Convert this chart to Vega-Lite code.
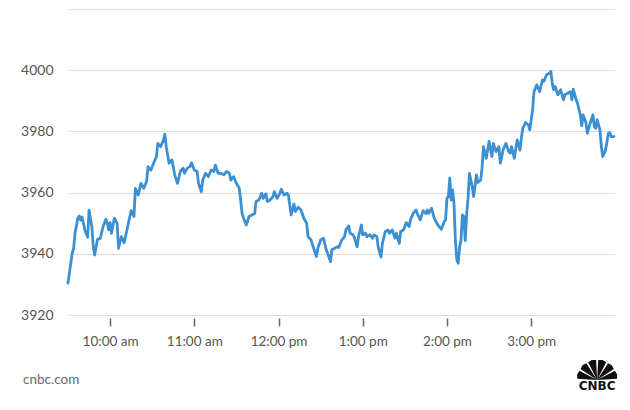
{
  "$schema": "https://vega.github.io/schema/vega-lite/v6.json",
  "width": 546,
  "height": 306,
  "autosize": {"type": "none"},
  "padding": {"left": 68, "top": 9, "right": 16, "bottom": 95},
  "background": "#ffffff",
  "config": {"view": {"stroke": null}},
  "layer": [
    {
      "data": {
        "values": [
          {"t":"2023-03-06T09:30","v":3930.4},{"t":"2023-03-06T09:33","v":3940.2},{"t":"2023-03-06T09:34","v":3941.8},{"t":"2023-03-06T09:35","v":3946.7},{"t":"2023-03-06T09:37","v":3951.6},{"t":"2023-03-06T09:38","v":3952.4},{"t":"2023-03-06T09:39","v":3951.0},{"t":"2023-03-06T09:40","v":3952.0},{"t":"2023-03-06T09:41","v":3950.0},{"t":"2023-03-06T09:42","v":3947.8},{"t":"2023-03-06T09:44","v":3945.4},{"t":"2023-03-06T09:45","v":3954.3},{"t":"2023-03-06T09:47","v":3948.9},{"t":"2023-03-06T09:48","v":3942.3},{"t":"2023-03-06T09:49","v":3939.6},{"t":"2023-03-06T09:51","v":3944.7},{"t":"2023-03-06T09:53","v":3945.0},{"t":"2023-03-06T09:55","v":3948.9},{"t":"2023-03-06T09:57","v":3951.3},{"t":"2023-03-06T09:58","v":3950.0},{"t":"2023-03-06T09:59","v":3947.8},
          {"t":"2023-03-06T10:00","v":3950.2},{"t":"2023-03-06T10:01","v":3946.7},{"t":"2023-03-06T10:03","v":3951.6},{"t":"2023-03-06T10:05","v":3950.0},{"t":"2023-03-06T10:06","v":3941.8},{"t":"2023-03-06T10:08","v":3945.6},{"t":"2023-03-06T10:10","v":3943.6},{"t":"2023-03-06T10:12","v":3947.8},{"t":"2023-03-06T10:13","v":3950.0},{"t":"2023-03-06T10:15","v":3954.1},{"t":"2023-03-06T10:17","v":3952.2},{"t":"2023-03-06T10:18","v":3961.4},{"t":"2023-03-06T10:20","v":3959.2},{"t":"2023-03-06T10:22","v":3963.0},{"t":"2023-03-06T10:24","v":3961.4},{"t":"2023-03-06T10:26","v":3963.6},{"t":"2023-03-06T10:27","v":3968.5},{"t":"2023-03-06T10:29","v":3967.3},{"t":"2023-03-06T10:31","v":3969.6},{"t":"2023-03-06T10:33","v":3971.8},{"t":"2023-03-06T10:34","v":3976.1},{"t":"2023-03-06T10:36","v":3975.0},{"t":"2023-03-06T10:38","v":3977.2},{"t":"2023-03-06T10:39","v":3979.1},{"t":"2023-03-06T10:40","v":3975.0},{"t":"2023-03-06T10:42","v":3969.6},{"t":"2023-03-06T10:44","v":3970.7},{"t":"2023-03-06T10:45","v":3968.5},{"t":"2023-03-06T10:46","v":3965.8},{"t":"2023-03-06T10:48","v":3963.0},{"t":"2023-03-06T10:50","v":3966.9},{"t":"2023-03-06T10:52","v":3968.0},{"t":"2023-03-06T10:53","v":3966.3},{"t":"2023-03-06T10:55","v":3968.0},{"t":"2023-03-06T10:57","v":3968.5},{"t":"2023-03-06T10:58","v":3969.8},
          {"t":"2023-03-06T11:00","v":3967.4},{"t":"2023-03-06T11:02","v":3966.9},{"t":"2023-03-06T11:03","v":3963.0},{"t":"2023-03-06T11:05","v":3960.3},{"t":"2023-03-06T11:06","v":3964.1},{"t":"2023-03-06T11:08","v":3966.3},{"t":"2023-03-06T11:10","v":3965.2},{"t":"2023-03-06T11:12","v":3967.4},{"t":"2023-03-06T11:14","v":3966.9},{"t":"2023-03-06T11:15","v":3969.0},{"t":"2023-03-06T11:17","v":3966.3},{"t":"2023-03-06T11:19","v":3966.3},{"t":"2023-03-06T11:21","v":3965.8},{"t":"2023-03-06T11:23","v":3966.9},{"t":"2023-03-06T11:25","v":3966.3},{"t":"2023-03-06T11:26","v":3964.1},{"t":"2023-03-06T11:28","v":3965.2},{"t":"2023-03-06T11:30","v":3963.0},{"t":"2023-03-06T11:32","v":3961.4},{"t":"2023-03-06T11:33","v":3957.6},{"t":"2023-03-06T11:34","v":3953.2},{"t":"2023-03-06T11:36","v":3950.5},{"t":"2023-03-06T11:37","v":3949.4},{"t":"2023-03-06T11:39","v":3952.2},{"t":"2023-03-06T11:41","v":3952.7},{"t":"2023-03-06T11:43","v":3953.2},{"t":"2023-03-06T11:44","v":3957.1},{"t":"2023-03-06T11:46","v":3957.6},{"t":"2023-03-06T11:48","v":3959.8},{"t":"2023-03-06T11:49","v":3958.1},{"t":"2023-03-06T11:51","v":3959.6},{"t":"2023-03-06T11:52","v":3957.1},{"t":"2023-03-06T11:54","v":3957.6},{"t":"2023-03-06T11:56","v":3958.7},{"t":"2023-03-06T11:57","v":3960.3},{"t":"2023-03-06T11:59","v":3958.1},
          {"t":"2023-03-06T12:01","v":3959.8},{"t":"2023-03-06T12:02","v":3961.1},{"t":"2023-03-06T12:04","v":3959.2},{"t":"2023-03-06T12:06","v":3959.8},{"t":"2023-03-06T12:07","v":3959.2},{"t":"2023-03-06T12:09","v":3952.7},{"t":"2023-03-06T12:11","v":3956.3},{"t":"2023-03-06T12:12","v":3953.8},{"t":"2023-03-06T12:14","v":3955.2},{"t":"2023-03-06T12:16","v":3954.3},{"t":"2023-03-06T12:18","v":3951.6},{"t":"2023-03-06T12:20","v":3950.0},{"t":"2023-03-06T12:21","v":3945.6},{"t":"2023-03-06T12:23","v":3944.7},{"t":"2023-03-06T12:25","v":3941.8},{"t":"2023-03-06T12:27","v":3939.1},{"t":"2023-03-06T12:28","v":3941.8},{"t":"2023-03-06T12:30","v":3944.5},{"t":"2023-03-06T12:32","v":3945.1},{"t":"2023-03-06T12:34","v":3941.3},{"t":"2023-03-06T12:35","v":3940.2},{"t":"2023-03-06T12:37","v":3937.4},{"t":"2023-03-06T12:38","v":3941.3},{"t":"2023-03-06T12:40","v":3941.8},{"t":"2023-03-06T12:42","v":3942.3},{"t":"2023-03-06T12:43","v":3942.1},{"t":"2023-03-06T12:45","v":3944.5},{"t":"2023-03-06T12:47","v":3945.6},{"t":"2023-03-06T12:48","v":3947.8},{"t":"2023-03-06T12:50","v":3949.1},{"t":"2023-03-06T12:51","v":3946.7},{"t":"2023-03-06T12:53","v":3946.2},{"t":"2023-03-06T12:54","v":3945.4},{"t":"2023-03-06T12:56","v":3942.3},{"t":"2023-03-06T12:57","v":3945.6},{"t":"2023-03-06T12:59","v":3949.4},
          {"t":"2023-03-06T13:00","v":3946.2},{"t":"2023-03-06T13:02","v":3946.7},{"t":"2023-03-06T13:03","v":3945.6},{"t":"2023-03-06T13:05","v":3946.2},{"t":"2023-03-06T13:07","v":3945.1},{"t":"2023-03-06T13:08","v":3946.2},{"t":"2023-03-06T13:10","v":3945.6},{"t":"2023-03-06T13:11","v":3942.3},{"t":"2023-03-06T13:13","v":3938.9},{"t":"2023-03-06T13:14","v":3943.4},{"t":"2023-03-06T13:16","v":3947.2},{"t":"2023-03-06T13:18","v":3947.8},{"t":"2023-03-06T13:19","v":3946.7},{"t":"2023-03-06T13:21","v":3947.8},{"t":"2023-03-06T13:23","v":3945.1},{"t":"2023-03-06T13:24","v":3946.7},{"t":"2023-03-06T13:26","v":3943.4},{"t":"2023-03-06T13:27","v":3947.2},{"t":"2023-03-06T13:29","v":3947.8},{"t":"2023-03-06T13:31","v":3950.2},{"t":"2023-03-06T13:33","v":3948.9},{"t":"2023-03-06T13:34","v":3951.1},{"t":"2023-03-06T13:36","v":3953.3},{"t":"2023-03-06T13:38","v":3954.3},{"t":"2023-03-06T13:39","v":3953.0},{"t":"2023-03-06T13:41","v":3951.1},{"t":"2023-03-06T13:43","v":3954.1},{"t":"2023-03-06T13:45","v":3953.2},{"t":"2023-03-06T13:46","v":3954.3},{"t":"2023-03-06T13:47","v":3953.2},{"t":"2023-03-06T13:49","v":3954.9},{"t":"2023-03-06T13:51","v":3951.6},{"t":"2023-03-06T13:53","v":3949.8},{"t":"2023-03-06T13:54","v":3949.1},{"t":"2023-03-06T13:56","v":3948.0},{"t":"2023-03-06T13:58","v":3950.5},{"t":"2023-03-06T13:59","v":3951.1},
          {"t":"2023-03-06T14:00","v":3958.1},{"t":"2023-03-06T14:01","v":3958.7},{"t":"2023-03-06T14:02","v":3964.7},{"t":"2023-03-06T14:03","v":3957.6},{"t":"2023-03-06T14:04","v":3960.9},{"t":"2023-03-06T14:05","v":3956.5},{"t":"2023-03-06T14:06","v":3944.5},{"t":"2023-03-06T14:07","v":3938.0},{"t":"2023-03-06T14:08","v":3936.9},{"t":"2023-03-06T14:09","v":3942.3},{"t":"2023-03-06T14:10","v":3944.5},{"t":"2023-03-06T14:11","v":3952.7},{"t":"2023-03-06T14:12","v":3952.2},{"t":"2023-03-06T14:13","v":3944.3},{"t":"2023-03-06T14:14","v":3952.7},{"t":"2023-03-06T14:15","v":3958.1},{"t":"2023-03-06T14:16","v":3966.3},{"t":"2023-03-06T14:17","v":3964.1},{"t":"2023-03-06T14:18","v":3961.9},{"t":"2023-03-06T14:19","v":3958.7},{"t":"2023-03-06T14:21","v":3965.8},{"t":"2023-03-06T14:22","v":3963.3},{"t":"2023-03-06T14:24","v":3964.1},{"t":"2023-03-06T14:25","v":3968.0},{"t":"2023-03-06T14:26","v":3975.0},{"t":"2023-03-06T14:28","v":3971.2},{"t":"2023-03-06T14:29","v":3973.9},{"t":"2023-03-06T14:30","v":3976.7},{"t":"2023-03-06T14:32","v":3971.8},{"t":"2023-03-06T14:33","v":3976.1},{"t":"2023-03-06T14:35","v":3973.4},{"t":"2023-03-06T14:37","v":3975.0},{"t":"2023-03-06T14:38","v":3969.6},{"t":"2023-03-06T14:40","v":3973.9},{"t":"2023-03-06T14:42","v":3976.1},{"t":"2023-03-06T14:44","v":3973.4},{"t":"2023-03-06T14:45","v":3972.9},{"t":"2023-03-06T14:46","v":3975.0},{"t":"2023-03-06T14:48","v":3971.2},{"t":"2023-03-06T14:50","v":3977.2},{"t":"2023-03-06T14:52","v":3973.9},{"t":"2023-03-06T14:53","v":3977.8},{"t":"2023-03-06T14:54","v":3981.0},{"t":"2023-03-06T14:56","v":3982.9},{"t":"2023-03-06T14:58","v":3982.1},{"t":"2023-03-06T14:59","v":3980.5},
          {"t":"2023-03-06T15:01","v":3987.0},{"t":"2023-03-06T15:02","v":3993.0},{"t":"2023-03-06T15:04","v":3995.2},{"t":"2023-03-06T15:05","v":3994.1},{"t":"2023-03-06T15:06","v":3993.0},{"t":"2023-03-06T15:08","v":3996.8},{"t":"2023-03-06T15:09","v":3996.3},{"t":"2023-03-06T15:11","v":3998.5},{"t":"2023-03-06T15:13","v":3999.0},{"t":"2023-03-06T15:14","v":3999.6},{"t":"2023-03-06T15:15","v":3995.7},{"t":"2023-03-06T15:16","v":3993.6},{"t":"2023-03-06T15:17","v":3994.7},{"t":"2023-03-06T15:19","v":3992.0},{"t":"2023-03-06T15:21","v":3993.6},{"t":"2023-03-06T15:23","v":3990.3},{"t":"2023-03-06T15:24","v":3992.0},{"t":"2023-03-06T15:26","v":3992.5},{"t":"2023-03-06T15:28","v":3993.0},{"t":"2023-03-06T15:29","v":3990.3},{"t":"2023-03-06T15:30","v":3993.8},{"t":"2023-03-06T15:32","v":3990.3},{"t":"2023-03-06T15:33","v":3989.2},{"t":"2023-03-06T15:35","v":3985.4},{"t":"2023-03-06T15:36","v":3981.8},{"t":"2023-03-06T15:37","v":3985.4},{"t":"2023-03-06T15:39","v":3982.9},{"t":"2023-03-06T15:40","v":3979.4},{"t":"2023-03-06T15:42","v":3982.6},{"t":"2023-03-06T15:44","v":3985.4},{"t":"2023-03-06T15:45","v":3981.6},{"t":"2023-03-06T15:46","v":3981.0},{"t":"2023-03-06T15:47","v":3983.8},{"t":"2023-03-06T15:49","v":3980.5},{"t":"2023-03-06T15:50","v":3975.0},{"t":"2023-03-06T15:51","v":3971.8},{"t":"2023-03-06T15:53","v":3973.9},{"t":"2023-03-06T15:55","v":3979.4},{"t":"2023-03-06T15:56","v":3979.6},{"t":"2023-03-06T15:57","v":3978.3},{"t":"2023-03-06T15:59","v":3978.3}
        ]
      },
      "mark": {"type": "line", "color": "#3b8fd2", "strokeWidth": 2.8, "strokeJoin": "round", "strokeCap": "round"},
      "encoding": {
        "x": {
          "field": "t", "type": "temporal",
          "scale": {"nice": false, "domain": [{"year": 2023, "month": 3, "date": 6, "hours": 9, "minutes": 30}, {"year": 2023, "month": 3, "date": 6, "hours": 15, "minutes": 59}]},
          "axis": {
            "title": null, "grid": false, "domain": false,
            "values": [
              {"year": 2023, "month": 3, "date": 6, "hours": 10},
              {"year": 2023, "month": 3, "date": 6, "hours": 11},
              {"year": 2023, "month": 3, "date": 6, "hours": 12},
              {"year": 2023, "month": 3, "date": 6, "hours": 13},
              {"year": 2023, "month": 3, "date": 6, "hours": 14},
              {"year": 2023, "month": 3, "date": 6, "hours": 15}
            ],
            "format": "%-I:%M %p",
            "labelExpr": "replace(replace(datum.label, 'AM', 'am'), 'PM', 'pm')",
            "ticks": true, "tickSize": 8, "tickColor": "#666666", "tickWidth": 1.5, "offset": 3,
            "labelPadding": 8, "labelFont": "Lato", "labelFontSize": 13.5, "labelColor": "#555555", "labelFlush": false
          }
        },
        "y": {
          "field": "v", "type": "quantitative",
          "scale": {"domain": [3920, 4020], "nice": false, "zero": false},
          "axis": {
            "title": null, "domain": false, "ticks": false, "format": "d",
            "values": [3920, 3940, 3960, 3980, 4000, 4020],
            "labelExpr": "datum.value == 4020 ? '' : datum.label",
            "grid": true, "gridColor": "#dddddd", "gridWidth": 1,
            "labelPadding": 15, "labelFont": "Lato", "labelFontSize": 14, "labelColor": "#555555"
          }
        }
      }
    },
    {
      "data": {"values": [{"label": "CNBC"}]},
      "mark": {"type": "point", "filled": true, "color": "#111111", "opacity": 1, "size": 1100,
        "shape": "M0 0.5L-1.198 0.437L-1.207 0.176L-1.069 -0.045Z M0 0.5L-1.006 -0.154L-0.884 -0.384L-0.654 -0.506Z M0 0.5L-0.545 -0.569L-0.324 -0.707L-0.063 -0.698Z M0 0.5L0.063 -0.698L0.324 -0.707L0.545 -0.569Z M0 0.5L0.654 -0.506L0.884 -0.384L1.006 -0.154Z M0 0.5L1.069 -0.045L1.207 0.176L1.198 0.437Z"},
      "encoding": {
        "x": {"datum": {"year": 2023, "month": 3, "date": 6, "hours": 15, "minutes": 47}, "type": "temporal"},
        "y": {"datum": 3901.5, "type": "quantitative"}
      }
    },
    {
      "data": {"values": [{"label": "CNBC"}]},
      "mark": {"type": "text", "font": "DejaVu Sans", "fontWeight": "bold", "fontSize": 12, "color": "#111111", "align": "center", "baseline": "middle"},
      "encoding": {
        "x": {"datum": {"year": 2023, "month": 3, "date": 6, "hours": 15, "minutes": 47}, "type": "temporal"},
        "y": {"datum": 3896.9, "type": "quantitative"},
        "text": {"field": "label"}
      }
    },
    {
      "data": {"values": [{"label": "cnbc.com"}]},
      "mark": {"type": "text", "font": "Lato", "fontSize": 13.5, "color": "#6a6a6a", "align": "left", "baseline": "middle"},
      "encoding": {
        "x": {"datum": {"year": 2023, "month": 3, "date": 6, "hours": 8, "minutes": 58}, "type": "temporal"},
        "y": {"datum": 3898.6, "type": "quantitative"},
        "text": {"field": "label"}
      }
    }
  ]
}
